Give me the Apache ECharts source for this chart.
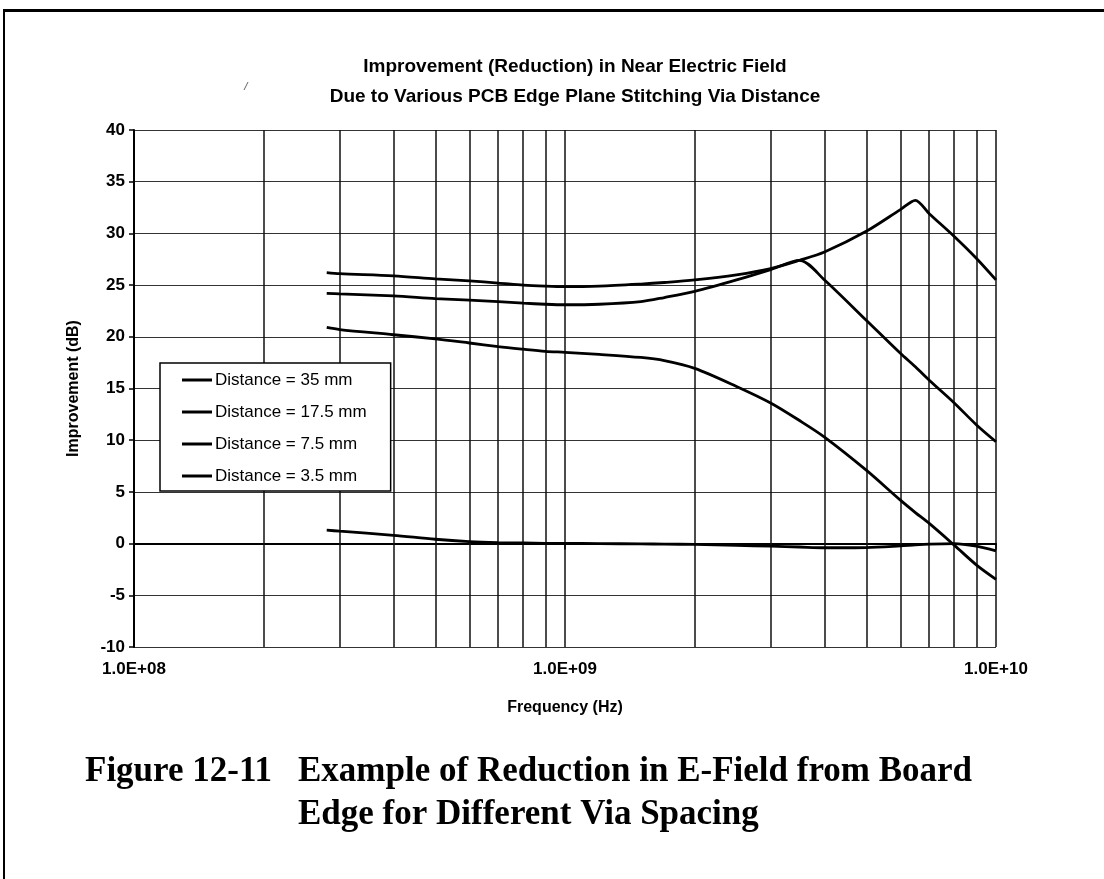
<!DOCTYPE html>
<html>
<head>
<meta charset="utf-8">
<title>Improvement (Reduction) in Near Electric Field</title>
<script src="https://cdn.jsdelivr.net/npm/echarts@6/dist/echarts.min.js"></script>
<style>
  html, body { margin: 0; padding: 0; background: #fff; }
  #chart { width: 1104px; height: 879px; }
</style>
</head>
<body>
<div id="chart"></div>
<script>
// ============================================================
// Data
// ============================================================

// frequency points (Hz), shared by every curve
const freqs = [2.8e8, 3e8, 4e8, 5e8, 6e8, 7e8, 8e8, 9e8, 1e9, 1.2e9, 1.5e9, 1.7e9, 2e9,
  2.5e9, 3e9, 3.5e9, 4e9, 5e9, 6e9, 6.5e9, 7e9, 8e9, 9e9, 1e10]

// improvement (dB) per via distance
const dist35 = [1.3, 1.2, 0.8, 0.42, 0.2, 0.1, 0.06, 0.03, 0.02, 0, -0.03, -0.05, -0.08,
  -0.17, -0.25, -0.33, -0.4, -0.38, -0.22, -0.12, -0.05, 0, -0.25, -0.7]
const dist17_5 = [20.9, 20.7, 20.2, 19.8, 19.4, 19.05, 18.8, 18.6, 18.5, 18.3, 18.0, 17.7, 16.95,
  15.2, 13.6, 11.9, 10.3, 7.1, 4.2, 3.0, 1.95, -0.15, -2.05, -3.45]
const dist7_5 = [24.2, 24.15, 23.95, 23.7, 23.55, 23.4, 23.25, 23.15, 23.1, 23.15, 23.4, 23.8, 24.4,
  25.5, 26.5, 27.4, 25.5, 21.6, 18.4, 17.1, 15.8, 13.6, 11.5, 9.85]
const dist3_5 = [26.2, 26.1, 25.9, 25.6, 25.4, 25.2, 25.0, 24.9, 24.85, 24.9, 25.1, 25.25, 25.5,
  26.0, 26.6, 27.4, 28.2, 30.2, 32.3, 33.2, 31.9, 29.7, 27.6, 25.5]

const seriesNames = ['Distance = 35 mm', 'Distance = 17.5 mm', 'Distance = 7.5 mm', 'Distance = 3.5 mm']
const seriesValues = [dist35, dist17_5, dist7_5, dist3_5]

// log grid lines between the decades
const minorFreqs = [2e8, 3e8, 4e8, 5e8, 6e8, 7e8, 8e8, 9e8,
  2e9, 3e9, 4e9, 5e9, 6e9, 7e9, 8e9, 9e9]

// ============================================================
// Chart
// ============================================================
const FONT = 'Liberation Sans, Arial, sans-serif'
const SERIF = 'Liberation Serif, Times New Roman, serif'

function expLabel(v) {
  const e = Math.round(Math.log10(v))
  return '1.0E+' + String(e).padStart(2, '0')
}

function buildSeries() {
  const lines = seriesNames.map((name, i) => ({
    name: name,
    type: 'line',
    data: freqs.map((f, j) => [f, seriesValues[i][j]]),
    symbol: 'none',
    smooth: 0.3,
    lineStyle: { color: '#000', width: 2.8 },
    itemStyle: { color: '#000' },
    z: 3
  }))

  // vertical minor grid lines go through the x scale
  lines.push({
    name: 'grid',
    type: 'line',
    data: [],
    z: 1,
    markLine: {
      silent: true,
      z: 1,
      symbol: 'none',
      label: { show: false },
      lineStyle: { color: '#111', width: 1.5, type: 'solid' },
      data: minorFreqs.map(f => ({ xAxis: f }))
    }
  })
  return lines
}

const chart = echarts.init(document.getElementById('chart'))

chart.setOption({
  animation: false,
  backgroundColor: '#fff',
  grid: { left: 134, right: 108, top: 130, bottom: 232 },
  legend: {
    data: seriesNames,
    z: 10,
    orient: 'vertical',
    left: 160,
    top: 363,
    padding: [7, 24, 5, 22],
    itemGap: 12,
    itemWidth: 30,
    itemHeight: 3,
    icon: 'rect',
    selectedMode: false,
    backgroundColor: '#fff',
    borderColor: '#000',
    borderWidth: 1.5,
    itemStyle: { color: '#000' },
    textStyle: { fontFamily: FONT, fontSize: 17, lineHeight: 20, color: '#000', padding: [0, 0, 0, -2] }
  },
  xAxis: {
    type: 'log',
    logBase: 10,
    min: 1e8,
    max: 1e10,
    name: 'Frequency (Hz)',
    nameLocation: 'middle',
    nameGap: 53,
    nameTextStyle: { fontFamily: FONT, fontWeight: 'bold', fontSize: 16, color: '#000' },
    axisLine: { show: true, lineStyle: { color: '#000', width: 2 } },
    axisTick: { show: true, length: 6, lineStyle: { color: '#000', width: 1.5 } },
    axisLabel: { formatter: expLabel, margin: 14, fontFamily: FONT, fontWeight: 'bold', fontSize: 17, color: '#000' },
    splitLine: { show: true, lineStyle: { color: '#111', width: 1.5 } }
  },
  yAxis: {
    type: 'value',
    min: -10,
    max: 40,
    interval: 5,
    name: 'Improvement (dB)',
    nameLocation: 'middle',
    nameGap: 52,
    nameRotate: 90,
    nameTextStyle: { fontFamily: FONT, fontWeight: 'bold', fontSize: 16, color: '#000' },
    axisLine: { show: true, lineStyle: { color: '#000', width: 2 } },
    axisTick: { show: true, length: 5, lineStyle: { color: '#000', width: 1.5 } },
    axisLabel: { margin: 9, fontFamily: FONT, fontWeight: 'bold', fontSize: 17, color: '#000' },
    splitLine: { show: true, lineStyle: { color: '#333', width: 1.2 } }
  },
  series: buildSeries(),
  graphic: [
    // page frame (top and left edges of the scan)
    { type: 'rect', shape: { x: 4, y: 9, width: 1100, height: 3 }, style: { fill: '#000' } },
    { type: 'rect', shape: { x: 3, y: 9, width: 2, height: 870 }, style: { fill: '#000' } },
    // stray mark on the scan
    { type: 'line', shape: { x1: 244, y1: 90, x2: 248, y2: 82 }, style: { stroke: '#666', lineWidth: 1 } },
    // chart title
    {
      type: 'text', x: 575, y: 52,
      style: {
        text: 'Improvement (Reduction) in Near Electric Field\nDue to Various PCB Edge Plane Stitching Via Distance',
        fontFamily: FONT, fontWeight: 'bold', fontSize: 19, lineHeight: 30,
        fill: '#000', textAlign: 'center'
      }
    },
    // figure caption
    {
      type: 'text', x: 85, y: 750,
      style: { text: 'Figure 12-11', fontFamily: SERIF, fontWeight: 'bold', fontSize: 35, lineHeight: 43, fill: '#000' }
    },
    {
      type: 'text', x: 298, y: 750,
      style: {
        text: 'Example of Reduction in E-Field from Board\nEdge for Different Via Spacing',
        fontFamily: SERIF, fontWeight: 'bold', fontSize: 35, lineHeight: 43, fill: '#000'
      }
    }
  ]
})
</script>
</body>
</html>
